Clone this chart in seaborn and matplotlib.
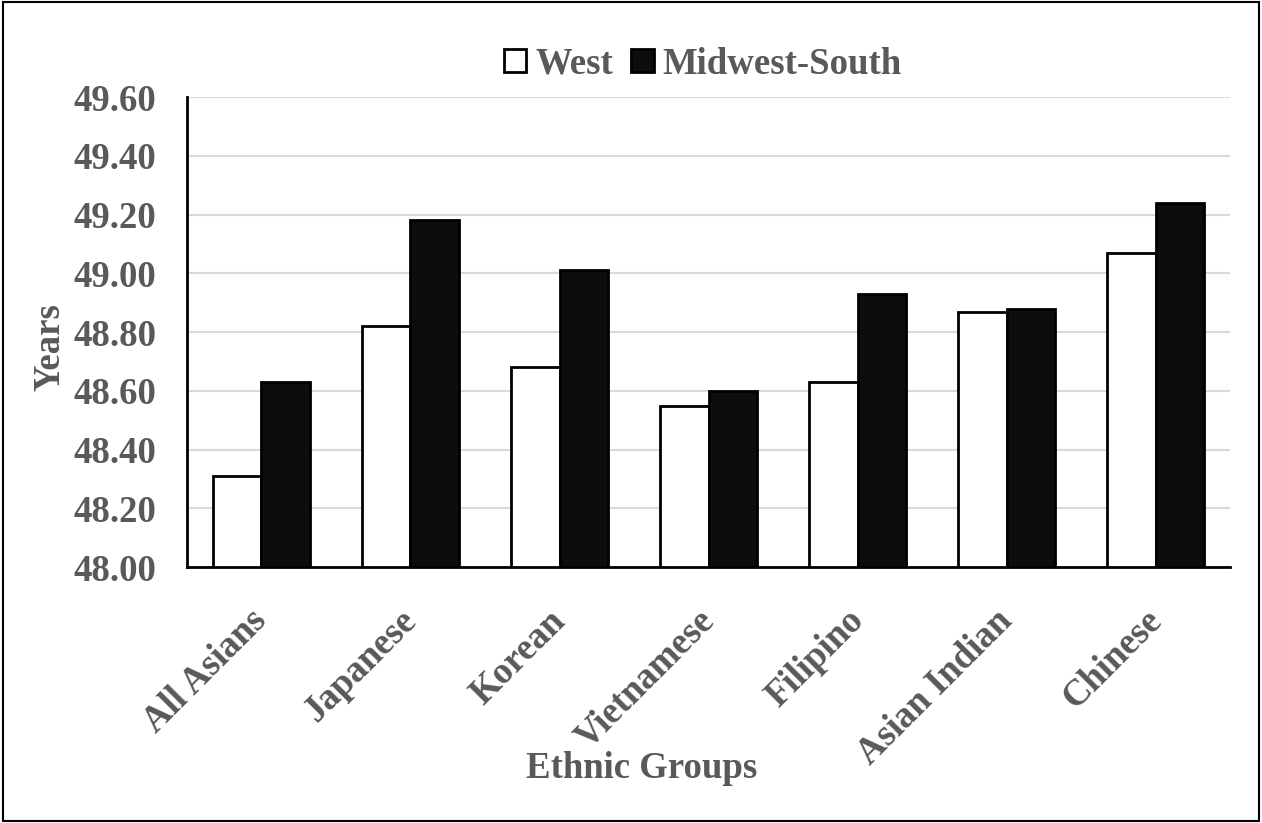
import matplotlib
matplotlib.use("Agg")
import matplotlib.pyplot as plt
import matplotlib.patches as mpatches
import matplotlib.transforms as mtransforms
import seaborn as sns
import pandas as pd

groups = ["All Asians", "Japanese", "Korean", "Vietnamese", "Filipino", "Asian Indian", "Chinese"]
west = [48.31, 48.82, 48.68, 48.55, 48.63, 48.87, 49.07]
midwest_south = [48.63, 49.18, 49.01, 48.60, 48.93, 48.88, 49.24]
y_ticks = [48.0, 48.2, 48.4, 48.6, 48.8, 49.0, 49.2, 49.4, 49.6]

df = pd.DataFrame({
    "group": groups * 2,
    "region": ["West"] * len(groups) + ["Midwest-South"] * len(groups),
    "years": west + midwest_south,
})

sns.set_style("white")
plt.rcParams["font.family"] = ["Liberation Serif", "DejaVu Serif"]
plt.rcParams["font.weight"] = "bold"
grey = "#595959"

fig = plt.figure(figsize=(12.62, 8.23), dpi=100)
ax = fig.add_axes([0.148, 0.311, 0.827, 0.571])

ax.grid(axis="y", color="#d9d9d9", linewidth=1.5, zorder=0)
ax.set_axisbelow(True)
sns.barplot(data=df, x="group", y="years", hue="region", order=groups,
            hue_order=["West", "Midwest-South"],
            palette={"West": "white", "Midwest-South": "#0d0d0d"},
            edgecolor="black", linewidth=2, width=0.65, gap=0, ax=ax, zorder=3)

ax.set_ylim(48.0, 49.6)
ax.set_yticks(y_ticks)
ax.set_yticklabels([f"{v:.2f}" for v in y_ticks])
ax.tick_params(axis="both", length=0, labelsize=26.5, labelcolor=grey)
ax.tick_params(axis="y", pad=22)
ax.tick_params(axis="x", pad=26)
# shift the rotated category labels slightly left
shift = mtransforms.ScaledTranslation(-12 / 100, 0, fig.dpi_scale_trans)
for lbl in ax.get_xticklabels():
    lbl.set_rotation(45)
    lbl.set_ha("right")
    lbl.set_rotation_mode("anchor")
    lbl.set_fontweight("bold")
    lbl.set_transform(lbl.get_transform() + shift)
plt.setp(ax.get_yticklabels(), fontweight="bold")

for s in ["top", "right"]:
    ax.spines[s].set_visible(False)
for s in ["left", "bottom"]:
    ax.spines[s].set_color("black")
    ax.spines[s].set_linewidth(2)
    ax.spines[s].set_zorder(4)

ax.set_xlabel("Ethnic Groups", fontsize=26.5, color=grey, fontweight="bold", va="center")
ax.xaxis.set_label_coords(0.436, -0.428)
ax.set_ylabel("Years", fontsize=26.5, color=grey, fontweight="bold", va="center")
ax.yaxis.set_label_coords(-0.131, 0.468)

ax.get_legend().remove()
handles = [mpatches.Patch(facecolor="white", edgecolor="black", linewidth=2, label="West"),
           mpatches.Patch(facecolor="#0d0d0d", edgecolor="black", linewidth=2, label="Midwest-South")]
leg = fig.legend(handles=handles, loc="center", bbox_to_anchor=(0.557, 0.922), ncol=2,
                 frameon=False, fontsize=26.5, handlelength=0.6, handleheight=0.6,
                 handletextpad=0.25, columnspacing=0.5)
for t in leg.get_texts():
    t.set_color(grey)
    t.set_fontweight("bold")

fig.add_artist(mpatches.Rectangle((0.002, 0.002), 0.996, 0.996, transform=fig.transFigure,
                                  fill=False, edgecolor="black", linewidth=1.5))

fig.savefig("out.png", dpi=100)
